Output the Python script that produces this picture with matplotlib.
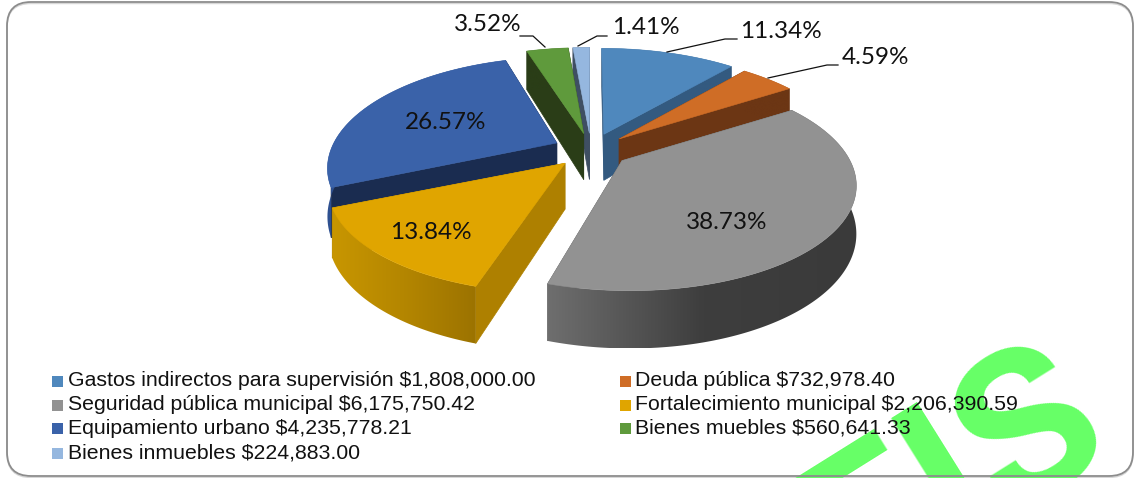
import numpy as np
import matplotlib
matplotlib.use("Agg")
import matplotlib.pyplot as plt
from matplotlib.patches import Polygon, FancyBboxPatch, Rectangle

# ---- data ----
categories = ["Gastos indirectos para supervisión", "Deuda pública", "Seguridad pública municipal",
              "Fortalecimiento municipal", "Equipamiento urbano", "Bienes muebles", "Bienes inmuebles"]
amounts = [1808000.00, 732978.40, 6175750.42, 2206390.59, 4235778.21, 560641.33, 224883.00]
percent_labels = ["11.34%", "4.59%", "38.73%", "13.84%", "26.57%", "3.52%", "1.41%"]
top_colors = ["#4F88BD", "#CF6D26", "#929292", "#E0A500", "#3A62A9", "#5F9A3C", "#95B7DF"]
face_colors = ["#335A80", "#6C3614", "#5A5A5A", "#AE8000", "#1A2C50", "#2A3D17", "#3F4F63"]
rim_left = ["#335A80", "#6C3614", "#6E6E6E", "#C89600", "#2E5090", "#2A3D17", "#3F4F63"]
rim_mid = ["#335A80", "#6C3614", "#3E3E3E", "#B48600", "#2E5090", "#2A3D17", "#3F4F63"]
rim_right = ["#335A80", "#6C3614", "#3A3A3A", "#9C7300", "#2E5090", "#2A3D17", "#3F4F63"]
draw_order = [6, 5, 0, 1, 4, 3, 2]
radius_scale = [1, 1, 1, 1.012, 0.978, 1, 1]

label_pos = [(781, 31), (875, 57), (727, 222), (431, 232), (446, 122), (488, 24), (646, 27)]
leaders = {
    0: [(737, 39), (725, 39), (667, 52)],
    1: [(838, 65), (827, 65), (768, 78)],
    5: [(520, 36), (533, 36), (545, 47)],
    6: [(607, 36), (597, 36), (578, 46)],
}

# ---- layout ----
W, H = 1134, 478
CX, CY = 591, 150
R, RY, K = 228, 103.5, 0.204
EXPLODE, DEPTH = 0.167, 46
legend_cols = [(52, 68), (620, 635)]
legend_rows = [381, 405, 428, 453]

fig = plt.figure(figsize=(W / 100, H / 100), dpi=100)
ax = fig.add_axes([0, 0, 1, 1])
ax.set_xlim(0, W)
ax.set_ylim(H, 0)
ax.axis("off")


def hex2rgb(c):
    return np.array(matplotlib.colors.to_rgb(c))


def project(ex, ey, th, scale):
    """Point on the rim of a slice whose apex is offset by (ex, ey) from the pie centre."""
    dx, dy = np.sin(th), np.cos(th)
    w = 1 + K * dy
    return CX + (ex + R * scale * dx) / w, CY + ey - RY * dy / w, DEPTH / w


# frame with soft shadow
frame = dict(boxstyle="round,pad=0,rounding_size=24")
ax.add_patch(FancyBboxPatch((7, 2), 1126, 474, fc="white", ec="none", zorder=1, **frame))
ax.add_patch(FancyBboxPatch((7, 3.5), 1126, 474, fc="none", ec="#606060", lw=1.0, alpha=0.25, zorder=1.5, **frame))

# watermark
ax.text(1117, 447, "SEIS", rotation=32, rotation_mode="anchor", ha="right", va="baseline",
        fontsize=150, fontweight="bold", family="Roboto", color="#66FF66", zorder=2)
ax.add_patch(FancyBboxPatch((7, 2), 1126, 474, fc="none", ec="#8C8C8C", lw=1.3, zorder=3, **frame))

# exploded 3-D pie computed from the amounts
values = np.array(amounts)
fracs = values / values.sum()
edges = np.concatenate([[0], np.cumsum(fracs)]) * 2 * np.pi

for z, i in enumerate(draw_order):
    t0, t1 = edges[i], edges[i + 1]
    mid = (t0 + t1) / 2
    w = 1 + K * np.cos(mid) * EXPLODE
    ex = R * EXPLODE * np.sin(mid) / w
    ey = -RY * EXPLODE * np.cos(mid) / w
    ax_x, ax_y = CX + ex, CY + ey
    scale = radius_scale[i]
    ths = np.linspace(t0, t1, max(8, int((t1 - t0) * 80)))
    pts = np.array([project(ex, ey, t, scale) for t in ths])
    base = 10 + z * 10
    # cut faces
    for t in (t0, t1):
        x, y, d = project(ex, ey, t, scale)
        ax.add_patch(Polygon([(ax_x, ax_y), (x, y), (x, y + d), (ax_x, ax_y + DEPTH)],
                             closed=True, fc=face_colors[i], ec=face_colors[i], lw=0.5, zorder=base))
    # rim with a left-to-right gradient
    rim_xy = [(p[0], p[1]) for p in pts] + [(p[0], p[1] + p[2]) for p in pts[::-1]]
    rim_patch = Polygon(rim_xy, closed=True, transform=ax.transData, fc="none", ec="none")
    ax.add_patch(rim_patch)
    xmin, xmax = pts[:, 0].min(), pts[:, 0].max()
    ymin, ymax = pts[:, 1].min(), (pts[:, 1] + pts[:, 2]).max()
    stops = np.array([hex2rgb(rim_left[i]), hex2rgb(rim_mid[i]), hex2rgb(rim_right[i])])
    s = np.linspace(0, 2, 128)
    grad = np.stack([np.interp(s, [0, 1, 2], stops[:, c]) for c in range(3)], axis=-1)[None, :, :]
    im = ax.imshow(grad, extent=(xmin, xmax, ymax, ymin), aspect="auto", interpolation="bilinear", zorder=base + 1)
    im.set_clip_path(rim_patch)
    # top
    outline = [(ax_x, ax_y)] + [(p[0], p[1]) for p in pts]
    ax.add_patch(Polygon(outline, closed=True, fc=top_colors[i], ec=top_colors[i], lw=0.4, zorder=base + 2))

ax.set_xlim(0, W)
ax.set_ylim(H, 0)

# labels
for i, lab in enumerate(percent_labels):
    ax.text(label_pos[i][0], label_pos[i][1], lab, ha="center", va="center",
            fontsize=17.5, family="Lato", color="#111111", zorder=200)
for pts in leaders.values():
    xs, ys = zip(*pts)
    ax.plot(xs, ys, color="#111111", lw=0.9, zorder=199)

# legend
for i, (cat, val) in enumerate(zip(categories, amounts)):
    row, col = i // 2, i % 2
    mx, tx = legend_cols[col]
    y = legend_rows[row]
    ax.add_patch(Rectangle((mx, y - 5.5), 11, 11, fc=top_colors[i], ec="none", zorder=200))
    ax.text(tx, y, f"{cat} ${val:,.2f}", va="center", ha="left", fontsize=15.27,
            family="Liberation Sans", color="#111111", zorder=200)

fig.savefig("out.png", dpi=100)
